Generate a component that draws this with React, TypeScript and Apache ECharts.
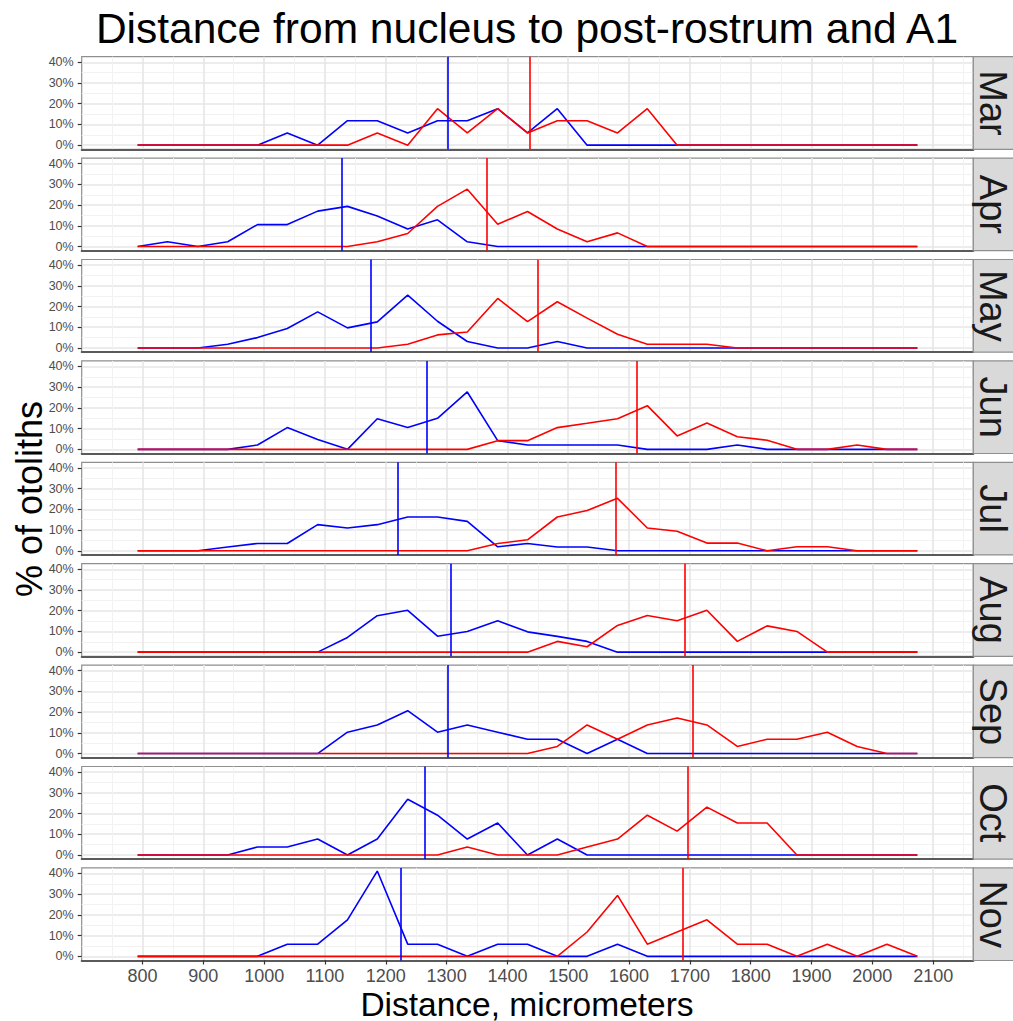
import React, { useEffect, useRef } from "react";
import * as echarts from "echarts";

const months = ["Mar", "Apr", "May", "Jun", "Jul", "Aug", "Sep", "Oct", "Nov"];

// bin centres (micrometers)
const xs = [792, 841, 891, 940, 989, 1038, 1088, 1137, 1186, 1236, 1285, 1334, 1384, 1433,
  1482, 1531, 1581, 1630, 1679, 1728, 1778, 1827, 1876, 1926, 1975, 2024, 2074];

// post-rostrum (blue), % of otoliths
const blueMar = [0, 0, 0, 0, 0, 5.9, 0, 11.8, 11.8, 5.9, 11.8, 11.8, 17.6, 5.9, 17.6, 0, 0, 0, 0, 0, 0, 0, 0, 0, 0, 0, 0];
const blueApr = [0, 2.3, 0, 2.3, 10.6, 10.6, 17.1, 19.4, 14.8, 8.5, 12.9, 2.3, 0, 0, 0, 0, 0, 0, 0, 0, 0, 0, 0, 0, 0, 0, 0];
const blueMay = [0, 0, 0, 1.8, 5, 9.4, 17.4, 9.7, 12.6, 25.5, 12.9, 3.1, 0, 0, 3.1, 0, 0, 0, 0, 0, 0, 0, 0, 0, 0, 0, 0];
const blueJun = [0, 0, 0, 0, 2.1, 10.5, 4.8, 0, 14.8, 10.5, 15, 27.7, 4.2, 2.1, 2.1, 2.1, 2.1, 0, 0, 0, 2.1, 0, 0, 0, 0, 0, 0];
const blueJul = [0, 0, 0, 1.8, 3.5, 3.5, 12.6, 11, 12.6, 16.3, 16.3, 14.2, 1.9, 3.5, 1.8, 1.8, 0, 0, 0, 0, 0, 0, 0, 0, 0, 0, 0];
const blueAug = [0, 0, 0, 0, 0, 0, 0, 7.1, 17.6, 20.2, 7.7, 10, 15.2, 9.8, 7.6, 5.2, 0, 0, 0, 0, 0, 0, 0, 0, 0, 0, 0];
const blueSep = [0, 0, 0, 0, 0, 0, 0, 10.3, 13.8, 20.7, 10.3, 13.8, 10.3, 6.9, 6.9, 0, 6.9, 0, 0, 0, 0, 0, 0, 0, 0, 0, 0];
const blueOct = [0, 0, 0, 0, 3.85, 3.85, 7.7, 0, 7.7, 26.9, 19.2, 7.7, 15.4, 0, 7.7, 0, 0, 0, 0, 0, 0, 0, 0, 0, 0, 0, 0];
const blueNov = [0, 0, 0, 0, 0, 5.88, 5.88, 17.65, 41.18, 5.88, 5.88, 0, 5.88, 5.88, 0, 0, 5.88, 0, 0, 0, 0, 0, 0, 0, 0, 0, 0];

// A1 (red), % of otoliths
const redMar = [0, 0, 0, 0, 0, 0, 0, 0, 5.9, 0, 17.6, 5.9, 17.6, 5.9, 11.8, 11.8, 5.9, 17.6, 0, 0, 0, 0, 0, 0, 0, 0, 0];
const redApr = [0, 0, 0, 0, 0, 0, 0, 0, 2.3, 6.3, 19.4, 27.7, 10.8, 16.9, 8.5, 2.3, 6.6, 0, 0, 0, 0, 0, 0, 0, 0, 0, 0];
const redMay = [0, 0, 0, 0, 0, 0, 0, 0, 0, 1.8, 6.3, 7.7, 23.9, 12.7, 22.3, 14.4, 6.6, 1.8, 1.8, 1.8, 0, 0, 0, 0, 0, 0, 0];
const redJun = [0, 0, 0, 0, 0, 0, 0, 0, 0, 0, 0, 0, 4.2, 4.2, 10.5, 12.6, 14.8, 21.1, 6.5, 12.7, 6.1, 4.4, 0, 0, 2.1, 0, 0];
const redJul = [0, 0, 0, 0, 0, 0, 0, 0, 0, 0, 0, 0, 3.5, 5.3, 16.3, 19.4, 25.3, 11, 9.4, 3.7, 3.7, 0, 1.9, 1.9, 0, 0, 0];
const redAug = [0, 0, 0, 0, 0, 0, 0, 0, 0, 0, 0, 0, 0, 0, 5.2, 2.6, 12.9, 17.7, 15.2, 20.2, 5.2, 12.7, 10, 0, 0, 0, 0];
const redSep = [0, 0, 0, 0, 0, 0, 0, 0, 0, 0, 0, 0, 0, 0, 3.45, 13.8, 6.9, 13.8, 17.2, 13.8, 3.45, 6.9, 6.9, 10.3, 3.45, 0, 0];
const redOct = [0, 0, 0, 0, 0, 0, 0, 0, 0, 0, 0, 3.85, 0, 0, 0, 3.85, 7.7, 19.2, 11.5, 23.1, 15.4, 15.4, 0, 0, 0, 0, 0];
const redNov = [0, 0, 0, 0, 0, 0, 0, 0, 0, 0, 0, 0, 0, 0, 0, 11.76, 29.41, 5.88, 11.76, 17.65, 5.88, 5.88, 0, 5.88, 0, 5.88, 0];

const blueByMonth = [blueMar, blueApr, blueMay, blueJun, blueJul, blueAug, blueSep, blueOct, blueNov];
const redByMonth = [redMar, redApr, redMay, redJun, redJul, redAug, redSep, redOct, redNov];

// mean distances (vertical lines)
const blueMeans = [1302, 1128, 1176, 1268, 1219, 1306, 1302, 1264, 1224];
const redMeans = [1437, 1366, 1450, 1612, 1578, 1692, 1704, 1697, 1688];

const xTicks = [800, 900, 1000, 1100, 1200, 1300, 1400, 1500, 1600, 1700, 1800, 1900, 2000, 2100];
const yTicks = [0, 10, 20, 30, 40];

const W = 1013;
const H = 1021;
const PANEL_LEFT = 81.7;
const PANEL_RIGHT = 973.3;
const PANEL_TOP = 56.7;
const PANEL_PITCH = 101.4;
const PANEL_H = 92.6;
const FONT = "'Liberation Sans', Arial, Helvetica, sans-serif";

export default function App() {
  const ref = useRef<HTMLDivElement>(null);

  useEffect(() => {
    if (!ref.current) return;
    const chart = echarts.init(ref.current, undefined, { renderer: "svg" });

    const grids: any[] = [];
    const xAxes: any[] = [];
    const yAxes: any[] = [];
    const series: any[] = [];
    const graphics: any[] = [];
    const n = months.length;

    months.forEach((m, i) => {
      const top = PANEL_TOP + i * PANEL_PITCH;
      const isLast = i === n - 1;
      grids.push({
        left: PANEL_LEFT,
        top,
        width: PANEL_RIGHT - PANEL_LEFT,
        height: PANEL_H,
        show: true,
        backgroundColor: "#ffffff",
        borderColor: "#8f8f8f",
        borderWidth: 1.2,
      });
      xAxes.push({
        type: "value",
        gridIndex: i,
        min: 700,
        max: 2166,
        interval: 100,
        axisLine: { show: true, onZero: false, lineStyle: { color: "#5a5a5a", width: 2 } },
        axisTick: {
          show: isLast,
          length: 4,
          customValues: xTicks,
          lineStyle: { color: "#333333", width: 1.2 },
        },
        axisLabel: {
          show: isLast,
          customValues: xTicks,
          formatter: (v: number) => String(Math.round(v)),
          fontFamily: FONT,
          fontSize: 18,
          color: "#4d4d4d",
          margin: 6,
        },
        splitLine: { show: true, lineStyle: { color: "#e6e6e6", width: 1.6 } },
        minorTick: { show: false, splitNumber: 2 },
        minorSplitLine: { show: true, lineStyle: { color: "#f2f2f2", width: 1 } },
      });
      yAxes.push({
        type: "value",
        gridIndex: i,
        min: -2,
        max: 42.7,
        splitNumber: 5,
        axisLine: { show: false },
        axisTick: {
          show: true,
          length: 4,
          customValues: yTicks,
          lineStyle: { color: "#333333", width: 1.2 },
        },
        axisLabel: {
          show: true,
          customValues: yTicks,
          formatter: (v: number) => (yTicks.indexOf(Math.round(v)) >= 0 && Math.abs(v - Math.round(v)) < 1e-6 ? `${Math.round(v)}%` : ""),
          fontFamily: FONT,
          fontSize: 12.5,
          color: "#4d4d4d",
          margin: 8,
        },
        splitLine: { show: true, lineStyle: { color: "#e6e6e6", width: 1.6 } },
        minorTick: { show: false, splitNumber: 2 },
        minorSplitLine: { show: true, lineStyle: { color: "#f2f2f2", width: 1 } },
      });

      series.push({
        type: "line",
        name: `${m} post-rostrum`,
        xAxisIndex: i,
        yAxisIndex: i,
        data: xs.map((x, k) => [x, blueByMonth[i][k]]),
        showSymbol: false,
        symbol: "none",
        lineStyle: { color: "#0000ff", width: 1.6 },
        itemStyle: { color: "#0000ff" },
        z: 3,
        markLine: {
          silent: true,
          symbol: "none",
          label: { show: false },
          lineStyle: { color: "#0000ff", width: 1.6, type: "solid" },
          data: [{ xAxis: blueMeans[i] }],
        },
      });
      series.push({
        type: "line",
        name: `${m} A1`,
        xAxisIndex: i,
        yAxisIndex: i,
        data: xs.map((x, k) => [x, redByMonth[i][k]]),
        showSymbol: false,
        symbol: "none",
        lineStyle: { color: "#ff0000", width: 1.6 },
        itemStyle: { color: "#ff0000" },
        z: 4,
        markLine: {
          silent: true,
          symbol: "none",
          label: { show: false },
          lineStyle: { color: "#ff0000", width: 1.6, type: "solid" },
          data: [{ xAxis: redMeans[i] }],
        },
      });

      graphics.push({
        type: "rect",
        shape: { x: PANEL_RIGHT, y: top, width: 50, height: PANEL_H },
        style: { fill: "#d9d9d9", stroke: "#8f8f8f", lineWidth: 1.2 },
        z: 10,
      });
      graphics.push({
        type: "text",
        x: 993,
        y: top + PANEL_H / 2,
        rotation: -Math.PI / 2,
        style: {
          text: m,
          fontFamily: FONT,
          fontSize: 38,
          fill: "#1a1a1a",
          textAlign: "center",
          textVerticalAlign: "middle",
        },
        z: 11,
      });
    });

    graphics.push({
      type: "text",
      x: 527,
      y: 28,
      style: {
        text: "Distance from nucleus to post-rostrum and A1",
        fontFamily: FONT,
        fontSize: 42.5,
        fill: "#000000",
        textAlign: "center",
        textVerticalAlign: "middle",
      },
    });
    graphics.push({
      type: "text",
      x: 527,
      y: 1004,
      style: {
        text: "Distance, micrometers",
        fontFamily: FONT,
        fontSize: 33.5,
        fill: "#000000",
        textAlign: "center",
        textVerticalAlign: "middle",
      },
    });
    graphics.push({
      type: "text",
      x: 29,
      y: 499,
      rotation: Math.PI / 2,
      style: {
        text: "% of otoliths",
        fontFamily: FONT,
        fontSize: 36,
        fill: "#000000",
        textAlign: "center",
        textVerticalAlign: "middle",
      },
    });

    chart.setOption({
      animation: false,
      backgroundColor: "#ffffff",
      textStyle: { fontFamily: FONT },
      grid: grids,
      xAxis: xAxes,
      yAxis: yAxes,
      series,
      graphic: graphics,
    });

    return () => chart.dispose();
  }, []);

  return (
    <div
      ref={ref}
      style={{ position: "absolute", left: 0, top: 0, width: W, height: H, background: "#fff" }}
    />
  );
}
